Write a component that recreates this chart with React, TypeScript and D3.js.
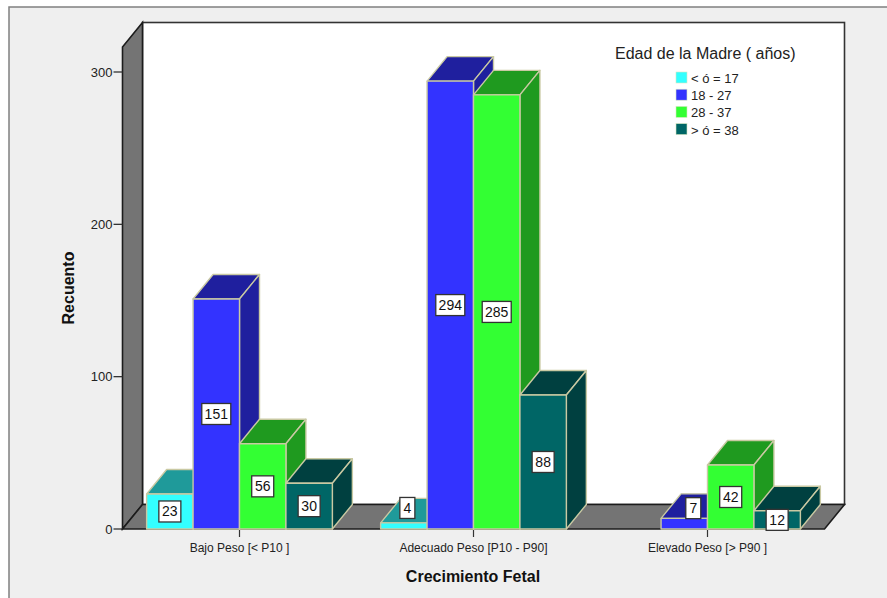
import React from "react";
import * as d3 from "d3";

// Counts per fetal growth class, one array per maternal age group
const categories = ["Bajo Peso [< P10 ]", "Adecuado Peso [P10 - P90]", "Elevado Peso [> P90 ]"];
const ageGroups = ["< ó = 17", "18 - 27", "28 - 37", "> ó = 38"];
const under17: (number | null)[] = [23, 4, null];
const from18to27: (number | null)[] = [151, 294, 7];
const from28to37: (number | null)[] = [56, 285, 42];
const over38: (number | null)[] = [30, 88, 12];
const seriesValues = [under17, from18to27, from28to37, over38];
const yTicks = [0, 100, 200, 300];

const frontColors = ["#33ffff", "#3333ff", "#33ff33", "#006666"];
const topColors = ["#1f9a9a", "#1f1f9e", "#1f9a1f", "#004040"];
const sideColors = ["#1f9a9a", "#1f1f9e", "#1f9a1f", "#004040"];

const FONT = "'Liberation Sans', Arial, sans-serif";
const DEPTH_X = 20;
const DEPTH_Y = -24.5;
const BASE_Y = 529;
const EDGE = "#c9c9a3";
const INK = "#1c1c1c";

const y = d3.scaleLinear().domain([0, 300]).range([BASE_Y, 72]);
const x = d3.scaleBand<string>().domain(categories).range([122.5, 824.5]);
const inner = d3
  .scaleBand<string>()
  .domain(ageGroups)
  .range([0, x.bandwidth()])
  .paddingInner(0)
  .paddingOuter(0.52);

const poly = d3.line<[number, number]>();

// Labels on very short bars are lifted clear of the bar
function labelOffset(height: number, width: number): [number, number] {
  if (height < 8) return [3.5, -18];
  if (height < 14) return [9, -15.5];
  return [0, 0];
}

function ValueLabel({ cx, cy, text }: { cx: number; cy: number; text: string }) {
  const w = text.length * 7 + 8;
  const h = 21;
  return (
    <g>
      <rect x={cx - w / 2} y={cy - h / 2} width={w} height={h} fill="#fff" stroke="#333" strokeWidth={1.3} />
      <text x={cx} y={cy + 4.8} textAnchor="middle" fontFamily={FONT} fontSize={14} fill="#111">
        {text}
      </text>
    </g>
  );
}

export default function App() {
  const bars = categories.flatMap((cat, ci) =>
    ageGroups.flatMap((group, si) => {
      const v = seriesValues[si][ci];
      return v == null ? [] : [{ cat, group, si, v }];
    })
  );
  const x0 = 122.5;
  const x1 = 824.5;
  const top = y(300) - 25;

  return (
    <svg width={887} height={598} style={{ position: "absolute", left: 0, top: 0 }}>
      <rect width={887} height={598} fill="#fff" />
      <rect x={9} y={7} width={890} height={600} fill="#efefef" stroke="#808080" strokeWidth={1.5} />

      {/* back wall, side wall and floor of the 3-D box */}
      <rect x={x0 + DEPTH_X} y={top + DEPTH_Y} width={x1 - x0} height={BASE_Y + DEPTH_Y - top - DEPTH_Y} fill="#fff" stroke="#333" strokeWidth={1.6} />
      <path
        d={poly([[x0, BASE_Y], [x0, top], [x0 + DEPTH_X, top + DEPTH_Y], [x0 + DEPTH_X, BASE_Y + DEPTH_Y]]) + "Z"}
        fill="#747474"
        stroke={INK}
        strokeWidth={1.6}
      />
      <path
        d={poly([[x0, BASE_Y], [x1, BASE_Y], [x1 + DEPTH_X, BASE_Y + DEPTH_Y], [x0 + DEPTH_X, BASE_Y + DEPTH_Y]]) + "Z"}
        fill="#747474"
        stroke={INK}
        strokeWidth={1.6}
      />

      {/* axes */}
      {yTicks.map((t) => (
        <g key={t}>
          <line x1={x0 - 9} x2={x0} y1={y(t)} y2={y(t)} stroke="#333" strokeWidth={1.3} />
          <text x={x0 - 10} y={y(t) + 4.5} textAnchor="end" fontFamily={FONT} fontSize={13} fill="#222">
            {t}
          </text>
        </g>
      ))}
      {categories.map((c) => {
        const cx = x(c)! + x.bandwidth() / 2;
        return (
          <g key={c}>
            <line x1={cx} x2={cx} y1={BASE_Y + 1} y2={BASE_Y + 8} stroke="#333" strokeWidth={1.2} />
            <text x={cx} y={552} textAnchor="middle" fontFamily={FONT} fontSize={12} fill="#222">
              {c}
            </text>
          </g>
        );
      })}

      {/* bars, painted left to right so each one overlaps its neighbour's side face */}
      {bars.map((b) => {
        const left = x(b.cat)! + inner(b.group)!;
        const right = left + inner.bandwidth();
        const t = y(b.v);
        return (
          <g key={b.cat + b.group} stroke={EDGE} strokeWidth={1.4} strokeLinejoin="round">
            <path
              d={poly([[left, t], [left + DEPTH_X, t + DEPTH_Y], [right + DEPTH_X, t + DEPTH_Y], [right, t]]) + "Z"}
              fill={topColors[b.si]}
            />
            <path
              d={poly([[right, t], [right + DEPTH_X, t + DEPTH_Y], [right + DEPTH_X, BASE_Y + DEPTH_Y], [right, BASE_Y]]) + "Z"}
              fill={sideColors[b.si]}
            />
            <rect x={left} y={t} width={right - left} height={BASE_Y - t} fill={frontColors[b.si]} />
          </g>
        );
      })}

      {/* value labels go on last so no bar covers them */}
      {bars.map((b) => {
        const left = x(b.cat)! + inner(b.group)!;
        const t = y(b.v);
        const [dx, dy] = labelOffset(BASE_Y - t, inner.bandwidth());
        return (
          <ValueLabel
            key={b.cat + b.group}
            cx={left + inner.bandwidth() / 2 + dx}
            cy={(t + BASE_Y) / 2 + dy}
            text={String(b.v)}
          />
        );
      })}

      {/* axis titles */}
      <text x={473} y={582} textAnchor="middle" fontFamily={FONT} fontSize={16} fontWeight="bold" fill="#111">
        Crecimiento Fetal
      </text>
      <text
        transform="translate(74,288) rotate(-90)"
        textAnchor="middle"
        fontFamily={FONT}
        fontSize={16}
        fontWeight="bold"
        fill="#111"
      >
        Recuento
      </text>

      {/* legend */}
      <text x={615} y={59} fontFamily={FONT} fontSize={16} fill="#222">
        Edad de la Madre ( años)
      </text>
      {ageGroups.map((g, i) => (
        <g key={g}>
          <rect x={676} y={72 + i * 17.2} width={11} height={11} fill={frontColors[i]} stroke="#d8e8c0" strokeWidth={0.6} />
          <text x={691} y={83 + i * 17.2} fontFamily={FONT} fontSize={13} fill="#222">
            {g}
          </text>
        </g>
      ))}
    </svg>
  );
}
